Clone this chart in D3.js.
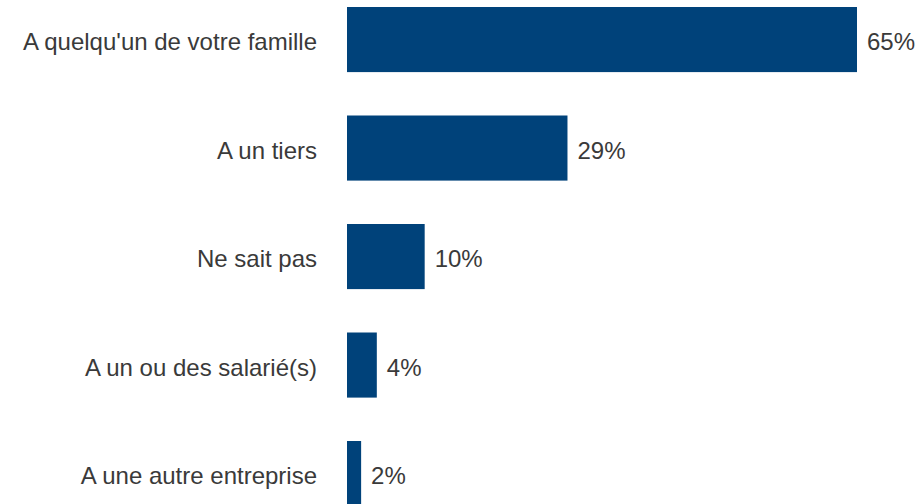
<!DOCTYPE html>
<html>
<head>
<meta charset="utf-8">
<script src="https://cdn.jsdelivr.net/npm/d3@7"></script>
<style>
  html, body { margin: 0; padding: 0; background: #fff; }
  svg { display: block; }
  text { font-family: "Liberation Sans", Arial, sans-serif; }
</style>
</head>
<body>
<svg id="chart" width="922" height="504"></svg>
<script>
const categories = [
  "A quelqu'un de votre famille",
  "A un tiers",
  "Ne sait pas",
  "A un ou des salarié(s)",
  "A une autre entreprise"
];
const values = [65, 28.1, 9.9, 3.8, 1.8];
const valueLabels = ["65%", "29%", "10%", "4%", "2%"];

const svg = d3.select("#chart");
const x0 = 347;
const x = d3.scaleLinear().domain([0, 65]).range([x0, 857]);
const y = d3.scaleBand().domain(categories).range([-14.7, 527.8]).paddingInner(0.4).paddingOuter(0.2);

const data = categories.map((c, i) => ({ c, v: values[i], l: valueLabels[i] }));

svg.selectAll("rect.bar").data(data).join("rect")
  .attr("class", "bar")
  .attr("x", x(0))
  .attr("y", d => y(d.c))
  .attr("width", d => x(d.v) - x(0))
  .attr("height", y.bandwidth())
  .attr("fill", "#00427a");

svg.selectAll("text.cat").data(data).join("text")
  .attr("class", "cat")
  .attr("x", 317)
  .attr("y", d => y(d.c) + y.bandwidth() / 2)
  .attr("dy", "0.45em")
  .attr("text-anchor", "end")
  .attr("font-size", 24)
  .attr("fill", "#3a3a3a")
  .text(d => d.c);

svg.selectAll("text.val").data(data).join("text")
  .attr("class", "val")
  .attr("x", d => x(d.v) + 10)
  .attr("y", d => y(d.c) + y.bandwidth() / 2)
  .attr("dy", "0.45em")
  .attr("font-size", 24)
  .attr("fill", "#3a3a3a")
  .text(d => d.l);
</script>
</body>
</html>
